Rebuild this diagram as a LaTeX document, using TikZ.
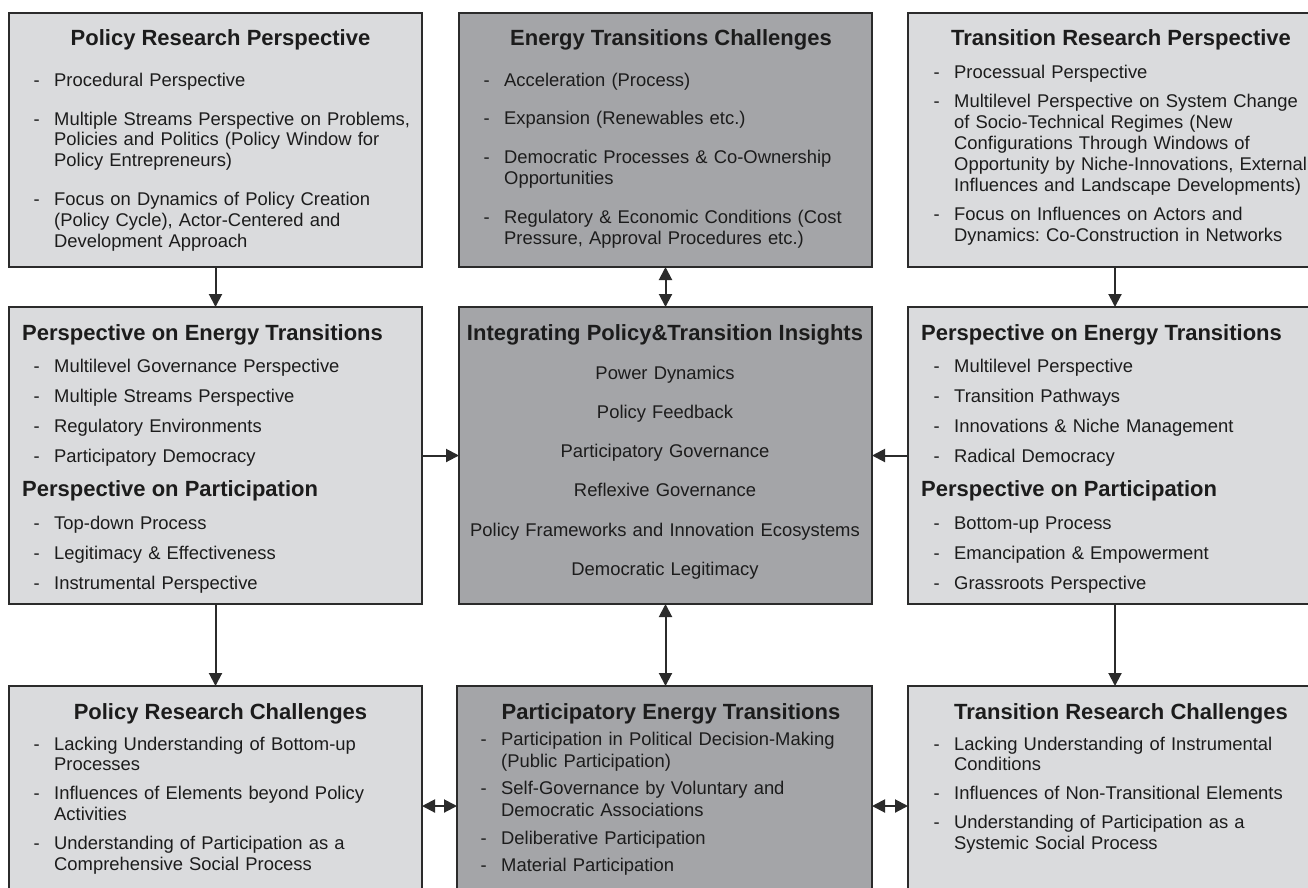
\documentclass[tikz,border=0pt]{standalone}
\usepackage{fontspec}
\setmainfont{Liberation Sans}
\usetikzlibrary{arrows.meta}
\frenchspacing
\definecolor{lightfill}{HTML}{DADBDD}
\definecolor{darkfill}{HTML}{A4A5A8}
\definecolor{edgecol}{HTML}{2B2B2B}
\definecolor{inkcol}{HTML}{1C1C1C}
\newcommand\bodyfont{\fontsize{18.4}{20.8}\selectfont}
\newcommand\titlefont{\fontsize{22}{26}\selectfont\bfseries}
\newcommand\itm[1]{\hangindent=20.5pt\hangafter=1\noindent\makebox[20.5pt][l]{-}#1\par}
\newcommand\nl{\hfil\break}
\tikzset{
  box/.style={draw=edgecol, line width=1.8pt, inner sep=0pt, outer sep=0pt, anchor=north west},
  lightbox/.style={box, fill=lightfill},
  darkbox/.style={box, fill=darkfill},
  ttl/.style={font=\titlefont, inner sep=0pt, anchor=base, text=inkcol},
  ttlleft/.style={ttl, anchor=base west},
  lst/.style={font=\bodyfont, inner sep=0pt, anchor=base west, text width=420pt, text=inkcol},
  ctrlst/.style={font=\fontsize{18.4}{39.3}\selectfont, inner sep=0pt, anchor=base, text width=410pt, align=center, text=inkcol},
  arr/.style={line width=2pt, draw=edgecol, -{Triangle[length=13pt,width=13pt]}},
  dblarr/.style={line width=2pt, draw=edgecol, {Triangle[length=13pt,width=13pt]}-{Triangle[length=13pt,width=13pt]}}
}
\begin{document}
\begin{tikzpicture}[x=1pt,y=-1pt]
\useasboundingbox (0,0) rectangle (1308,887);
\clip (0,0) rectangle (1308,887);
% boxes
\node[lightbox, minimum width=413pt, minimum height=254pt] (tl) at (9,13) {};
\node[darkbox,  minimum width=413pt, minimum height=254pt] (tm) at (459,13) {};
\node[lightbox, minimum width=414pt, minimum height=254pt] (tr) at (908,13) {};
\node[lightbox, minimum width=413pt, minimum height=297pt] (ml) at (9,307) {};
\node[darkbox,  minimum width=413pt, minimum height=297pt] (mm) at (459,307) {};
\node[lightbox, minimum width=414pt, minimum height=297pt] (mr) at (908,307) {};
\node[lightbox, minimum width=413pt, minimum height=240pt] (bl) at (9,686) {};
\node[darkbox,  minimum width=415pt, minimum height=240pt] (bm) at (457,686) {};
\node[lightbox, minimum width=414pt, minimum height=240pt] (br) at (908,686) {};
% arrows
\draw[arr] (tl.south) -- (ml.north);
\draw[dblarr] (tm.south) -- (mm.north);
\draw[arr] (tr.south) -- (mr.north);
\draw[arr] (ml.east) -- (mm.west);
\draw[arr] (mr.west) -- (mm.east);
\draw[arr] (ml.south) -- (bl.north);
\draw[dblarr] (mm.south) -- (mm.south |- bm.north);
\draw[arr] (mr.south) -- (br.north);
\draw[dblarr] (bl.east) -- (bm.west);
\draw[dblarr] (bm.east) -- (br.west);
% top row
\node[ttl] (tlt) at (220.5,45.5) {Policy Research Perspective};
\node[lst] (tll) at (33.5,86) {\raggedright\setlength\parskip{18.2pt}%
\itm{Procedural Perspective}%
\itm{Multiple Streams Perspective on Problems,\nl Policies and Politics (Policy Window for\nl Policy Entrepreneurs)}%
\itm{Focus on Dynamics of Policy Creation\nl (Policy Cycle), Actor-Centered and\nl Development Approach}};
\node[ttl] (tmt) at (671,45.5) {Energy Transitions Challenges};
\node[lst] (tml) at (483.5,86) {\raggedright\setlength\parskip{18pt}%
\itm{Acceleration (Process)}%
\itm{Expansion (Renewables etc.)}%
\itm{Democratic Processes \& Co-Ownership\nl Opportunities}%
\itm{Regulatory \& Economic Conditions (Cost\nl Pressure, Approval Procedures etc.)}};
\node[ttl] (trt) at (1121,45.5) {Transition Research Perspective};
\node[lst] (trl) at (933.5,78) {\raggedright\setlength\parskip{9pt}%
\itm{Processual Perspective}%
\itm{Multilevel Perspective on System Change\nl of Socio-Technical Regimes (New\nl Configurations Through Windows of\nl Opportunity by Niche-Innovations, External\nl Influences and Landscape Developments)}%
\itm{Focus on Influences on Actors and\nl Dynamics: Co-Construction in Networks}};
% middle row
\node[ttlleft] (mlt1) at (22,340.5) {Perspective on Energy Transitions};
\node[lst] (mll1) at (33.5,372) {\raggedright\setlength\parskip{9.2pt}%
\itm{Multilevel Governance Perspective}%
\itm{Multiple Streams Perspective}%
\itm{Regulatory Environments}%
\itm{Participatory Democracy}};
\node[ttlleft] (mlt2) at (22,496.3) {Perspective on Participation};
\node[lst] (mll2) at (33.5,529) {\raggedright\setlength\parskip{9.2pt}%
\itm{Top-down Process}%
\itm{Legitimacy \& Effectiveness}%
\itm{Instrumental Perspective}};
\node[ttl] (mmt) at (665,340.5) {Integrating Policy\&Transition Insights};
\node[ctrlst] (mml) at (665,379) {Power Dynamics\\Policy Feedback\\Participatory Governance\\Reflexive Governance\\Policy Frameworks and Innovation Ecosystems\\Democratic Legitimacy};
\node[ttlleft] (mrt1) at (921,340.5) {Perspective on Energy Transitions};
\node[lst] (mrl1) at (933.5,372) {\raggedright\setlength\parskip{9.2pt}%
\itm{Multilevel Perspective}%
\itm{Transition Pathways}%
\itm{Innovations \& Niche Management}%
\itm{Radical Democracy}};
\node[ttlleft] (mrt2) at (921,496.3) {Perspective on Participation};
\node[lst] (mrl2) at (933.5,529) {\raggedright\setlength\parskip{9.2pt}%
\itm{Bottom-up Process}%
\itm{Emancipation \& Empowerment}%
\itm{Grassroots Perspective}};
% bottom row
\node[ttl] (blt) at (220.5,719) {Policy Research Challenges};
\node[lst] (bll) at (33.5,750) {\raggedright\setlength\parskip{8.2pt}%
\itm{Lacking Understanding of Bottom-up\nl Processes}%
\itm{Influences of Elements beyond Policy\nl Activities}%
\itm{Understanding of Participation as a\nl Comprehensive Social Process}};
\node[ttl] (bmt) at (671,719) {Participatory Energy Transitions};
\node[lst, font=\fontsize{18.4}{22}\selectfont] (bml) at (480.5,745) {\raggedright\setlength\parskip{5.5pt}%
\itm{Participation in Political Decision-Making\nl (Public Participation)}%
\itm{Self-Governance by Voluntary and\nl Democratic Associations}%
\itm{Deliberative Participation}%
\itm{Material Participation}};
\node[ttl] (brt) at (1121,719) {Transition Research Challenges};
\node[lst] (brl) at (933.5,750) {\raggedright\setlength\parskip{8.2pt}%
\itm{Lacking Understanding of Instrumental\nl Conditions}%
\itm{Influences of Non-Transitional Elements}%
\itm{Understanding of Participation as a\nl Systemic Social Process}};
\end{tikzpicture}
\end{document}
